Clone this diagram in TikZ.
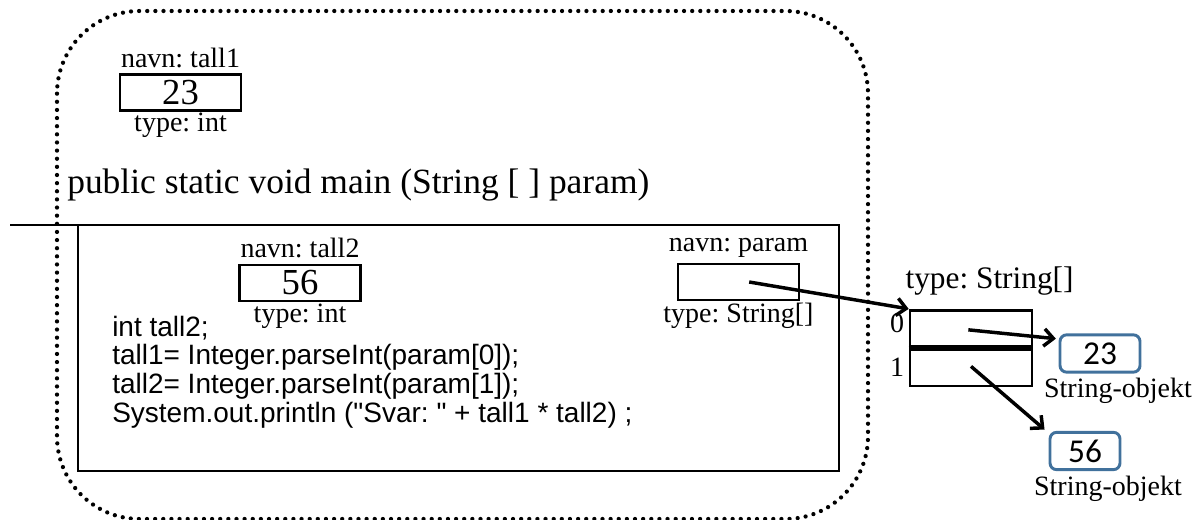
\documentclass[tikz,border=0pt]{standalone}
\usepackage{fontspec}
\setmainfont{Liberation Serif}
\setsansfont[Ligatures=TeXOff]{Liberation Sans}
\newfontfamily\calfont{Carlito}
\usetikzlibrary{arrows.meta,positioning}
\definecolor{objblue}{RGB}{65,113,156}
\frenchspacing
\tikzset{
        lbl/.style={font=\fontsize{21}{25}\selectfont, inner sep=1pt},
        big/.style={font=\fontsize{26.6}{30}\selectfont, inner sep=0pt},
        varbox/.style={draw, line width=2pt, minimum width=90.75pt, minimum height=27pt,
            inner sep=0pt, font=\fontsize{27.5}{30}\selectfont},
        cell/.style={draw, line width=2pt, minimum width=91.5pt, minimum height=27.4pt, inner sep=0pt},
        strobj/.style={draw=objblue, line width=2.2pt, rounded corners=5pt, minimum height=28pt,
            inner sep=0pt, font=\calfont\fontsize{25}{28}\selectfont},
        ptr/.style={line width=2.6pt, -{Straight Barb[length=7pt,width=13pt]}},
        code/.style={font=\sffamily\fontsize{21}{25}\selectfont, inner sep=0pt, anchor=base west},
        dotline/.style={line width=3.2pt, dash pattern=on 0pt off 6.1pt, line cap=round,
            rounded corners=62pt},
        frame/.style={line width=2.2pt},
    }
\begin{document}
\begin{tikzpicture}[x = 0.75pt, y = -0.75pt]
                \useasboundingbox (0,0) rectangle (1202,520);
                % the main frame
                \draw[dotline] (57,11) rectangle (868,519);
                \node[varbox] (tall1) at (180.5,92.5) {23};
                \node[lbl, above=3pt of tall1] (navn1) {navn: tall1};
                \node[lbl, below=0pt of tall1] (type1) {type: int};
                \node[big, anchor=base west] (sig) at (67,194) {public static void main (String [ ] param)};
                \draw[frame] (78,225) rectangle (839,471);
                \draw[frame] (10,225) -- (98,225);
                % local variables
                \node[varbox] (tall2) at (300,283) {56};
                \node[lbl, above=3pt of tall2] (navn2) {navn: tall2};
                \node[lbl, below=0pt of tall2] (type2) {type: int};
                \node[varbox] (param) at (738.5,282) {};
                \node[lbl, above=3pt of param] (navn3) {navn: param};
                \node[lbl, below=0pt of param] (type3) {type: String[]};
                \foreach \txt [count=\i] in {{int tall2;}, {tall1= Integer.parseInt(param[0]);},
                    {tall2= Integer.parseInt(param[1]);}, {System.out.println ("Svar: " + tall1 * tall2) ;}}
                {
                    \node[code] (line\i) at (112, {307.3 + 28.7*\i}) {\txt};
                }
                % the array and its objects
                \node[cell] (c0) at (971,328.5) {};
                \node[cell, below=0pt of c0] (c1) {};
                \draw[line width=3.4pt] (c0.south west) -- (c0.south east);
                \node[lbl, font=\fontsize{23.5}{28}\selectfont, anchor=base west] (arrtype) at (904,288) {type: String[]};
                \node[lbl] (i0) at (897,323.5) {0};
                \node[lbl] (i1) at (897,367) {1};
                \node[strobj, minimum width=60pt] (s23) at (1100,353.5) {23};
                \node[lbl, anchor=base] (obj1) at (1118,397) {String-objekt};
                \node[strobj, minimum width=52.5pt] (s56) at (1085,451) {56};
                \node[lbl, anchor=base] (obj2) at (1108,495) {String-objekt};
                \draw[ptr] ([xshift=8pt]param.center) -- (c0.north west);
                \draw[ptr] ([xshift=-2pt,yshift=-1pt]c0.center) -- ([xshift=-2pt,yshift=-4pt]s23.north west);
                \draw[ptr] ([yshift=1pt]c1.center) -- ([xshift=-3pt,yshift=1pt]s56.north west);
\end{tikzpicture}
\end{document}
